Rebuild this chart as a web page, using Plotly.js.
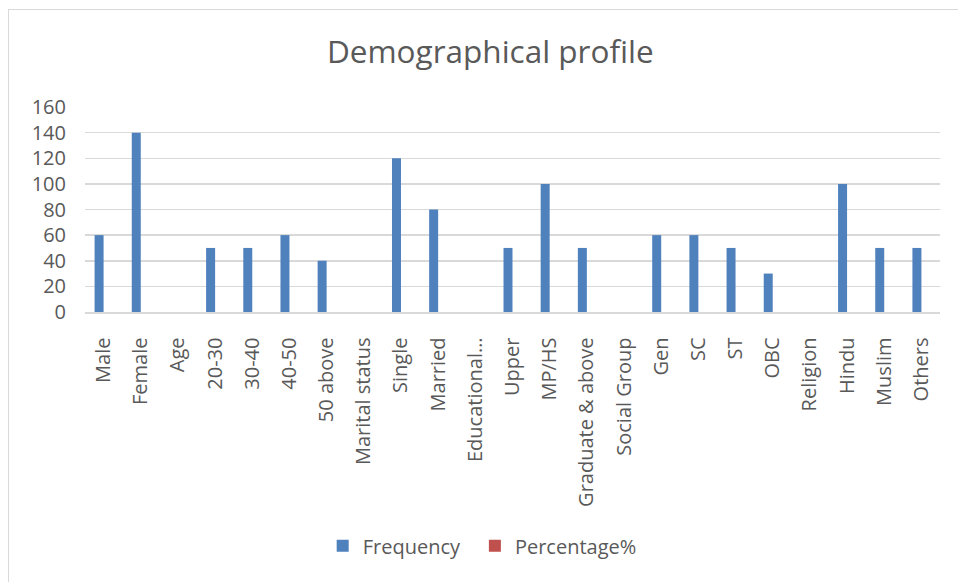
<!DOCTYPE html>
<html>
<head>
<meta charset="utf-8">
<script src="https://cdn.plot.ly/plotly-3.0.1.min.js"></script>
<style>
html,body{margin:0;padding:0;background:#fff;}
#wrap{position:relative;width:958px;height:582px;}
#chart{position:absolute;left:0;top:0;width:958px;height:582px;}
#frame{position:absolute;left:8px;top:9px;width:960px;height:580px;border-left:1.5px solid #d9d9d9;border-top:1.5px solid #d9d9d9;pointer-events:none;}
</style>
</head>
<body>
<div id="wrap"><div id="chart"></div><div id="frame"></div></div>
<script>
const categories = ["Male","Female","Age","20-30","30-40","40-50","50 above","Marital status","Single","Married","Educational\u2026","Upper","MP/HS","Graduate & above","Social Group","Gen","SC","ST","OBC","Religion","Hindu","Muslim","Others"];
const frequency = [60,140,null,50,50,60,40,null,120,80,null,50,100,50,null,60,60,50,30,null,100,50,50];
const percentage = [0,0,null,0,0,0,0,null,0,0,null,0,0,0,null,0,0,0,0,null,0,0,0];
const yTicks = [0,20,40,60,80,100,120,140,160];

const FONT = "'Open Sans', Lato, sans-serif";
const data = [
  {type:"bar", name:"Frequency", x:categories, y:frequency, marker:{color:"#4F81BD"}, legend:"legend"},
  {type:"bar", name:"Percentage%", x:categories, y:percentage, marker:{color:"#C0504D"}, legend:"legend2"}
];
const legendBase = {orientation:"h", y:-1.14, yanchor:"middle", xanchor:"left", font:{size:20, color:"#595959"}, itemwidth:30, bgcolor:"rgba(0,0,0,0)"};
const layout = {
  width:958, height:582,
  margin:{l:85, r:18, t:107, b:270},
  paper_bgcolor:"#fff", plot_bgcolor:"#fff",
  font:{family:FONT, color:"#595959", size:20},
  title:{text:"Demographical profile", font:{family:FONT, size:31.5, color:"#595959"}, x:0.474, xanchor:"center", y:0.91, yanchor:"middle", xref:"paper", yref:"container"},
  barmode:"group", bargap:0.516, bargroupgap:0,
  xaxis:{type:"category", tickangle:-90, showgrid:false, showline:true, linecolor:"#d9d9d9", linewidth:1.5, ticks:"", ticklabelstandoff:16, tickfont:{size:20, color:"#595959"}, fixedrange:true},
  yaxis:{range:[0,160], tickvals:yTicks, showgrid:true, gridcolor:"#d9d9d9", gridwidth:1.5, zeroline:false, showline:false, ticks:"", ticklabelstandoff:18, tickfont:{size:20, color:"#595959"}, fixedrange:true},
  legend:Object.assign({}, legendBase, {x:0.278}),
  legend2:Object.assign({}, legendBase, {x:0.456}),
  showlegend:true
};
Plotly.newPlot("chart", data, layout, {displayModeBar:false, staticPlot:true});
</script>
</body>
</html>
